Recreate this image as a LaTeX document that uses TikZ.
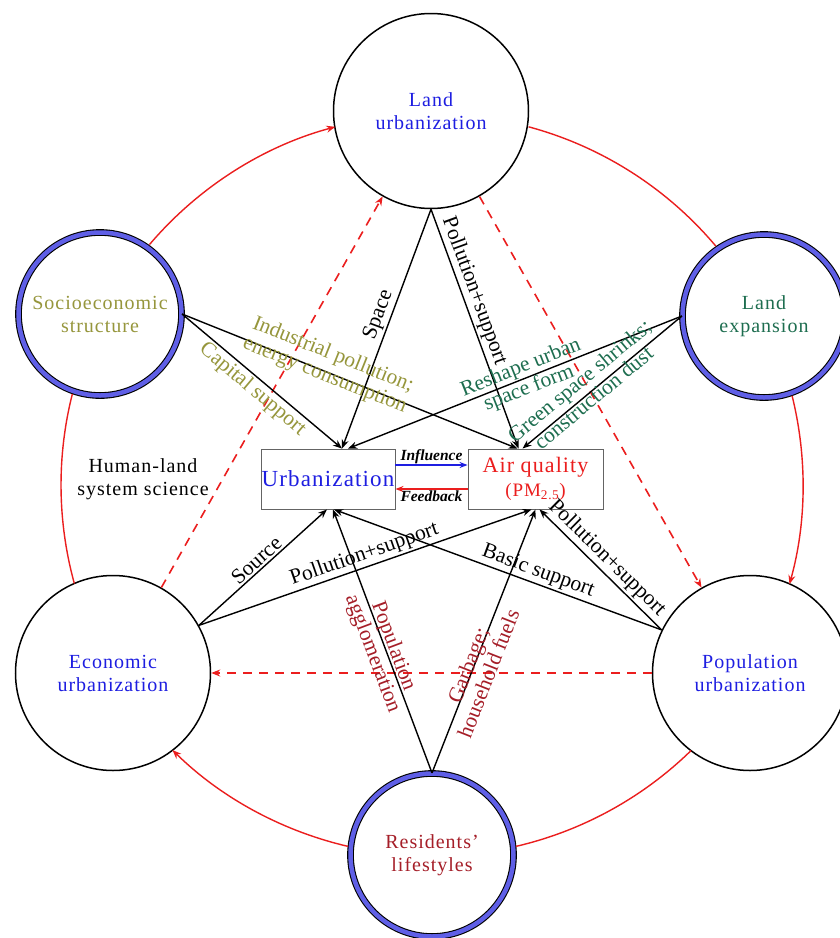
\documentclass[tikz,border=0pt]{standalone}
\usepackage{fontspec}
\setmainfont{Liberation Serif}
\newfontfamily\spacedfont{Liberation Serif}[LetterSpace=5,Ligatures=TeX]
\usetikzlibrary{arrows.meta,calc}
\definecolor{ublue}{RGB}{30,30,225}
\definecolor{olivetxt}{RGB}{150,150,60}
\definecolor{greentxt}{RGB}{30,110,80}
\definecolor{dred}{RGB}{165,30,40}
\definecolor{myred}{RGB}{235,30,30}
\definecolor{ringblue}{RGB}{95,95,230}
\definecolor{boxgray}{RGB}{100,100,100}
\begin{document}
\begin{tikzpicture}[x=1pt,y=1pt,
  urbc/.style={circle, draw=black, line width=1.5pt, fill=white, minimum size=195pt, inner sep=0pt, align=center, text=ublue, font=\spacedfont\fontsize{20}{23}\selectfont},
  ringc/.style={circle, draw=black, line width=1.1pt, double=ringblue, double distance=4.5pt, fill=white, minimum size=163pt, inner sep=0pt, align=center, font=\spacedfont\fontsize{20}{23}\selectfont},
  cbox/.style={draw=boxgray, line width=0.9pt, fill=white, inner sep=0pt, align=center, minimum height=60pt},
  arr/.style={draw=black, line width=1.4pt, -{Stealth[length=9pt,width=7pt]}},
  lab/.style={font=\fontsize{21.5}{22}\selectfont, align=center, inner sep=2pt},
  redarc/.style={draw=myred, line width=1.4pt},
  redtip/.style={-{Stealth[length=9pt,width=7pt]}},
  dashred/.style={draw=myred, line width=1.6pt, dash pattern=on 9pt off 7pt, -{Stealth[length=9pt,width=7pt]}},
  ilab/.style={font=\bfseries\itshape\fontsize{15.5}{17}\selectfont, text=black, inner sep=1pt},
]
\fill[white] (0,0) rectangle (839,-938);
\useasboundingbox (0,0) rectangle (839,-938);

% circles
\node[urbc] (landurb) at (431,-111) {Land\\urbanization};
\node[ringc, text=olivetxt] (socio) at (100,-314) {Socioeconomic\\structure};
\node[ringc, text=greentxt] (landexp) at (764,-316) {Land\\expansion};
\node[urbc] (econ) at (113,-673) {Economic\\urbanization};
\node[urbc] (pop) at (750,-673) {Population\\urbanization};
\node[ringc, text=dred] (res) at (432,-855) {Residents’\\lifestyles};

% central boxes
\node[cbox, minimum width=134pt, text=ublue, font=\spacedfont\fontsize{23}{26}\selectfont] (urb) at (328,-479) {Urbanization};
\node[cbox, minimum width=135pt, text=myred, font=\spacedfont\fontsize{22}{24}\selectfont] (air) at (535.5,-479) {Air quality\\{\fontsize{19}{24}\selectfont (PM\textsubscript{2.5})}};

\node[font=\spacedfont\fontsize{20}{23}\selectfont, align=center] (hl) at (143,-479) {Human-land\\system science};

% outer red cycle
\coordinate (C) at (432,-485);
\draw[redarc,redtip] (C) ++(139.6:371) arc[start angle=139.6, end angle=105.1, radius=371];
\draw[redarc] (C) ++(74.9:371) arc[start angle=74.9, end angle=40.1, radius=371];
\draw[redarc,redtip] (C) ++(13.9:371) arc[start angle=13.9, end angle=-15.5, radius=371];
\draw[redarc] (C) ++(-45.7:371) arc[start angle=-45.7, end angle=-76.9, radius=371];
\draw[redarc,redtip] (C) ++(-103.1:371) arc[start angle=-103.1, end angle=-134.4, radius=371];
\draw[redarc] (C) ++(195.4:371) arc[start angle=195.4, end angle=165.8, radius=371];

% dashed triangle
\draw[dashred] (econ) -- (landurb);
\draw[dashred] (landurb) -- (pop);
\draw[dashred] (pop) -- (econ);

% influence / feedback
\draw[line width=1.3pt, draw=ublue, -{Stealth[length=8pt,width=6pt]}] ([yshift=14pt]urb.east) -- node[ilab, above] {Influence} ([yshift=14pt]air.west);
\draw[line width=1.3pt, draw=myred, -{Stealth[length=8pt,width=6pt]}] ([yshift=-10pt]air.west) -- node[ilab, below] {Feedback} ([yshift=-10pt]urb.east);

% arrows into boxes
\draw[arr] (landurb.south) -- node[lab, sloped, above, pos=0.46] {Space} ([xshift=14pt]urb.north);
\draw[arr] (landurb.south) -- node[lab, sloped, above, pos=0.36] {Pollution+support} ([xshift=-17pt]air.north);
\draw[arr] (socio.east) -- node[lab, sloped, pos=0.43, text=olivetxt, yshift=7pt] {Industrial pollution;\\energy consumption} ([xshift=-18pt]air.north);
\draw[arr] (socio.east) -- node[lab, sloped, below, pos=0.49, text=olivetxt] {Capital support} ([xshift=14pt]urb.north);
\draw[arr] (landexp.west) -- node[lab, sloped, pos=0.47, text=greentxt] {Reshape urban\\space form} ([xshift=20pt]urb.north);
\draw[arr] (landexp.west) -- node[lab, sloped, pos=0.58, text=greentxt, yshift=5pt] {Green space shrinks;\\construction dust} ([xshift=-13pt]air.north);
\draw[arr] (econ.29) -- node[lab, sloped, above, pos=0.5] {Source} ([xshift=-1pt]urb.south);
\draw[arr] (econ.29) -- node[lab, sloped, above, pos=0.51] {Pollution+support} ([xshift=-4pt]air.south);
\draw[arr] (pop.154) -- node[lab, sloped, above, pos=0.39] {Basic support} ([xshift=6pt]urb.south);
\draw[arr] (pop.154) -- node[lab, sloped, above, pos=0.52] {Pollution+support} ([xshift=4pt]air.south);
\draw[arr] (res.north) -- node[lab, sloped, pos=0.47, text=dred, yshift=-3pt] {Population\\agglomeration} ([xshift=5pt]urb.south);
\draw[arr] (res.north) -- node[lab, sloped, pos=0.40, text=dred, yshift=-5pt] {Garbage;\\household fuels} (air.south);
\end{tikzpicture}
\end{document}
